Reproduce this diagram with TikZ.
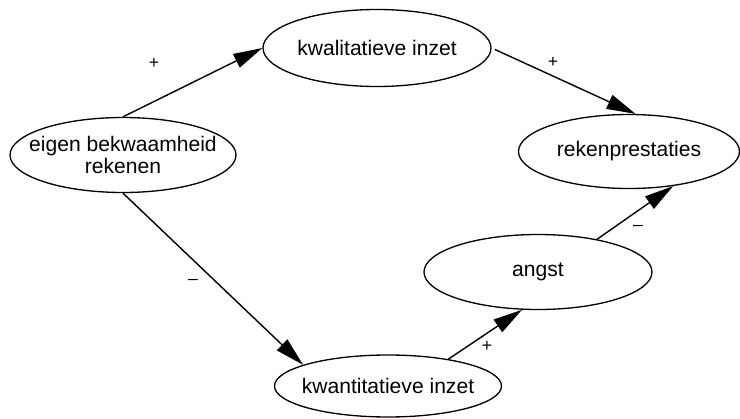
\documentclass[tikz,border=0pt]{standalone}
\usepackage{fontspec}
\setmainfont{Liberation Sans}
\usepackage{tikz}
\usetikzlibrary{shapes.geometric,arrows.meta}

\begin{document}
\begin{tikzpicture}[
 factor/.style={ellipse,draw=black,line width=0.75pt,inner xsep=-0.5cm,inner ysep=0pt,
  align=center,font=\fontsize{12}{11}\selectfont},
 link/.style={-{Triangle[length=5.8mm,width=3mm]},black,line width=0.8pt},
 sign/.style={font=\fontsize{10}{12}\selectfont,inner sep=1pt}]

% Frame of the figure
\useasboundingbox (0,0) rectangle (14.8,8.36);

% Factors
\node[factor,minimum width=4.52cm,minimum height=1.50cm] (eigen) at (2.46,5.26) {eigen bekwaamheid\\rekenen};
\node[factor,minimum width=4.56cm,minimum height=1.54cm] (kwal) at (7.54,7.40) {kwalitatieve inzet};
\node[factor,minimum width=4.42cm,minimum height=1.48cm] (reken) at (12.58,5.33) {rekenprestaties};
\node[factor,minimum width=4.56cm,minimum height=1.50cm] (angst) at (10.76,2.92) {angst};
\node[factor,minimum width=4.54cm,minimum height=1.24cm] (kwant) at (7.76,0.64) {kwantitatieve inzet};

% Causal links
\draw[link] (eigen.north) -- (kwal.west);
\draw[link,shorten <=2pt] (kwal.east) -- (reken.80);
\draw[link] (eigen.south) -- (kwant.166);
\draw[link] (kwant.24) -- (angst.247);
\draw[link] (angst.29) -- (reken.322);

% Signs of the links
\node[sign] (s1) at (3.08,7.10) {+};
\node[sign] (s2) at (11.06,7.12) {+};
\node[sign] (s3) at (3.86,2.72) {--};
\node[sign] (s4) at (9.74,1.44) {+};
\node[sign] (s5) at (12.76,3.80) {--};
\end{tikzpicture}
\end{document}
